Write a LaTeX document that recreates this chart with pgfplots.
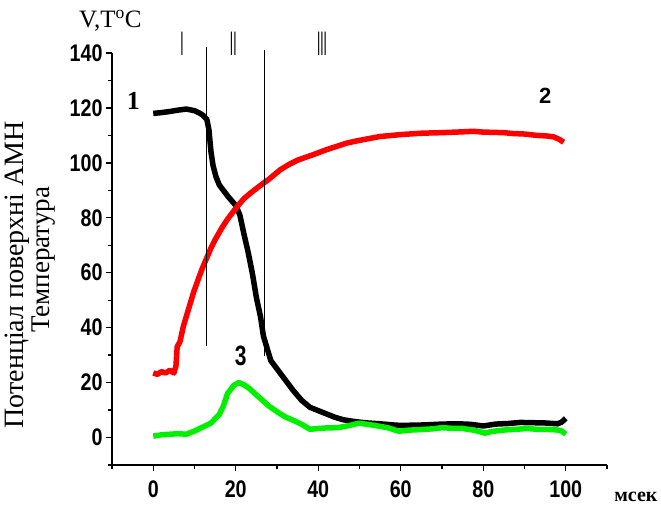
\documentclass[border=0pt]{standalone}
\usepackage{fontspec}
\setmainfont{Liberation Serif}
\newfontfamily\seriff{Liberation Serif}
\newfontfamily\sansf{Liberation Sans}
\newfontfamily\narrowf[FakeStretch=0.82]{Liberation Sans}
\newfontfamily\slimf[FakeStretch=0.75]{Liberation Sans}
\newfontfamily\romf[FakeStretch=0.35]{Liberation Sans}
\usepackage{pgfplots}
\pgfplotsset{compat=1.18}
\definecolor{cred}{RGB}{255,0,0}
\definecolor{cgreen}{RGB}{0,240,0}

\begin{document}
\begin{tikzpicture}
\useasboundingbox (-112pt,-44pt) rectangle (549pt,465pt);
\begin{axis}[
  scale only axis,
  width=495pt, height=412pt,
  xmin=-10, xmax=110, ymin=-10, ymax=140,
  axis x line=bottom, axis y line=left,
  axis line style={-, line width=1.3pt},
  tick align=outside,
  tick style={black, line width=1.3pt},
  major tick length=6pt, minor tick length=4pt,
  xtick={0,20,...,100},
  minor xtick={-10,10,30,50,70,90,110},
  ytick={0,20,...,140},
  minor ytick={-10,10,30,...,130},
  /pgf/number format/assume math mode=true,
  ticklabel style={font=\narrowf\bfseries\fontsize{24}{24}\selectfont},
  xticklabel style={yshift=-6pt},
  clip=false,
]
% curve 1 (black)
\addplot[black, line width=5.5pt, line join=round] coordinates {
(0,118.0) (2,118.3) (4,118.7) (6,119.2) (8,119.6) (10,119.0) (11,118.3)
(12,117.4) (13,115.8) (13.5,112) (14,104) (14.5,99) (15.2,95) (16,92)
(18,88) (20,84.5) (21,81) (22,74) (23,67.5) (24,60) (25,51) (26,44)
(26.7,37) (27.5,33) (28.5,28) (30,25) (32,21) (34,17) (36,13.5) (38,11)
(40,9.8) (42,8.6) (44,7.4) (46,6.5) (48,6.0) (50,5.6) (52,5.3) (55,5.0)
(58,4.6) (60,4.4) (63,4.5) (66,4.6) (70,4.9) (74,5.0) (77,4.8) (80,4.2)
(83,4.9) (86,5.1) (89,5.5) (92,5.4) (95,5.3) (98,5.0) (99,5.6) (100,7.0)
};
% curve 2 (red)
\addplot[cred, line width=5.5pt, line join=round] coordinates {
(0,23.5) (1,23) (2,24) (3,23.5) (4,24.5) (5,23.5) (5.5,26) (5.8,33)
(6.5,35) (7.3,40.5) (8,44) (9,49) (9.8,53) (11,58) (12,62) (13,65.5)
(14,69) (15,72) (16.5,76) (18,79.5) (20.3,84) (22,87) (24,89.5)
(26.7,92.6) (28,94) (30.8,97.5) (33,99.5) (35,101) (38.8,103) (42,104.8)
(46.9,107.2) (50,108.2) (55,109.6) (60,110.3) (65,110.8) (70,111)
(75,111.3) (77.6,111.5) (80,111.2) (85,111) (87,110.7) (90,110.5)
(93,110) (95.3,109.8) (97,109.5) (98.5,108.5) (99.5,107.5)
};
% curve 3 (green)
\addplot[cgreen, line width=5.5pt, line join=round] coordinates {
(0,0.5) (2,1.0) (4,1.2) (6,1.4) (8,1.2) (9.9,2.3) (12,3.8) (14,5.3)
(16,8.4) (17,11.5) (18,16) (19.5,19) (20.7,20) (22,19.2) (23.2,18)
(25,15.5) (26.3,13.8) (28,11.5) (30.4,9) (32,7.5) (34.5,5.9) (36,4.8)
(38,3.0) (40,3.3) (42,3.5) (44.7,3.6) (47,4.2) (49.8,5.2) (52,4.8)
(54.9,4.1) (57,3.5) (59.5,2.3) (62,2.7) (65,2.9) (68,3.2) (70,3.6)
(73,3.3) (75,3.3) (78,2.6) (80.4,1.6) (82,2.2) (85.5,2.8) (88,3.0)
(90.6,3.3) (93,3.0) (95,3.0) (97.7,2.8) (99,2.4) (100,1.2)
};
% stage boundaries
\addplot[black, line width=0.8pt] coordinates {(13,142.2) (13,33.5)};
\addplot[black, line width=0.8pt] coordinates {(26.9,141) (26.9,29.6)};

\node[font=\romf\fontsize{34}{34}\selectfont] at (axis cs:7.0,143.5) {I};
\node[font=\romf\fontsize{34}{34}\selectfont] at (axis cs:19.4,143.5) {II};
\node[font=\romf\fontsize{34}{34}\selectfont] at (axis cs:40.9,143.5) {III};

\node[font=\seriff\bfseries\fontsize{26}{26}\selectfont] at (axis cs:-4.8,122.5) {1};
\node[font=\sansf\bfseries\fontsize{22}{22}\selectfont] at (axis cs:95,124.5) {2};
\node[font=\slimf\bfseries\fontsize{28}{28}\selectfont] at (axis cs:21.2,29.6) {3};

\node[font=\seriff\fontsize{25}{25}\selectfont] at (axis cs:-10.4,151.8) {V,T\textsuperscript{o}C};
\node[font=\seriff\bfseries\fontsize{20}{20}\selectfont] at (axis cs:117,-21.5) {мсек};

\node[rotate=90, font=\seriff\fontsize{28}{28}\selectfont] at (axis cs:-32.9,59.3) {Потенціал поверхні АМН};
\node[rotate=90, font=\seriff\fontsize{27}{27}\selectfont] at (axis cs:-26.6,64.7) {Температура};
\end{axis}
\end{tikzpicture}
\end{document}
